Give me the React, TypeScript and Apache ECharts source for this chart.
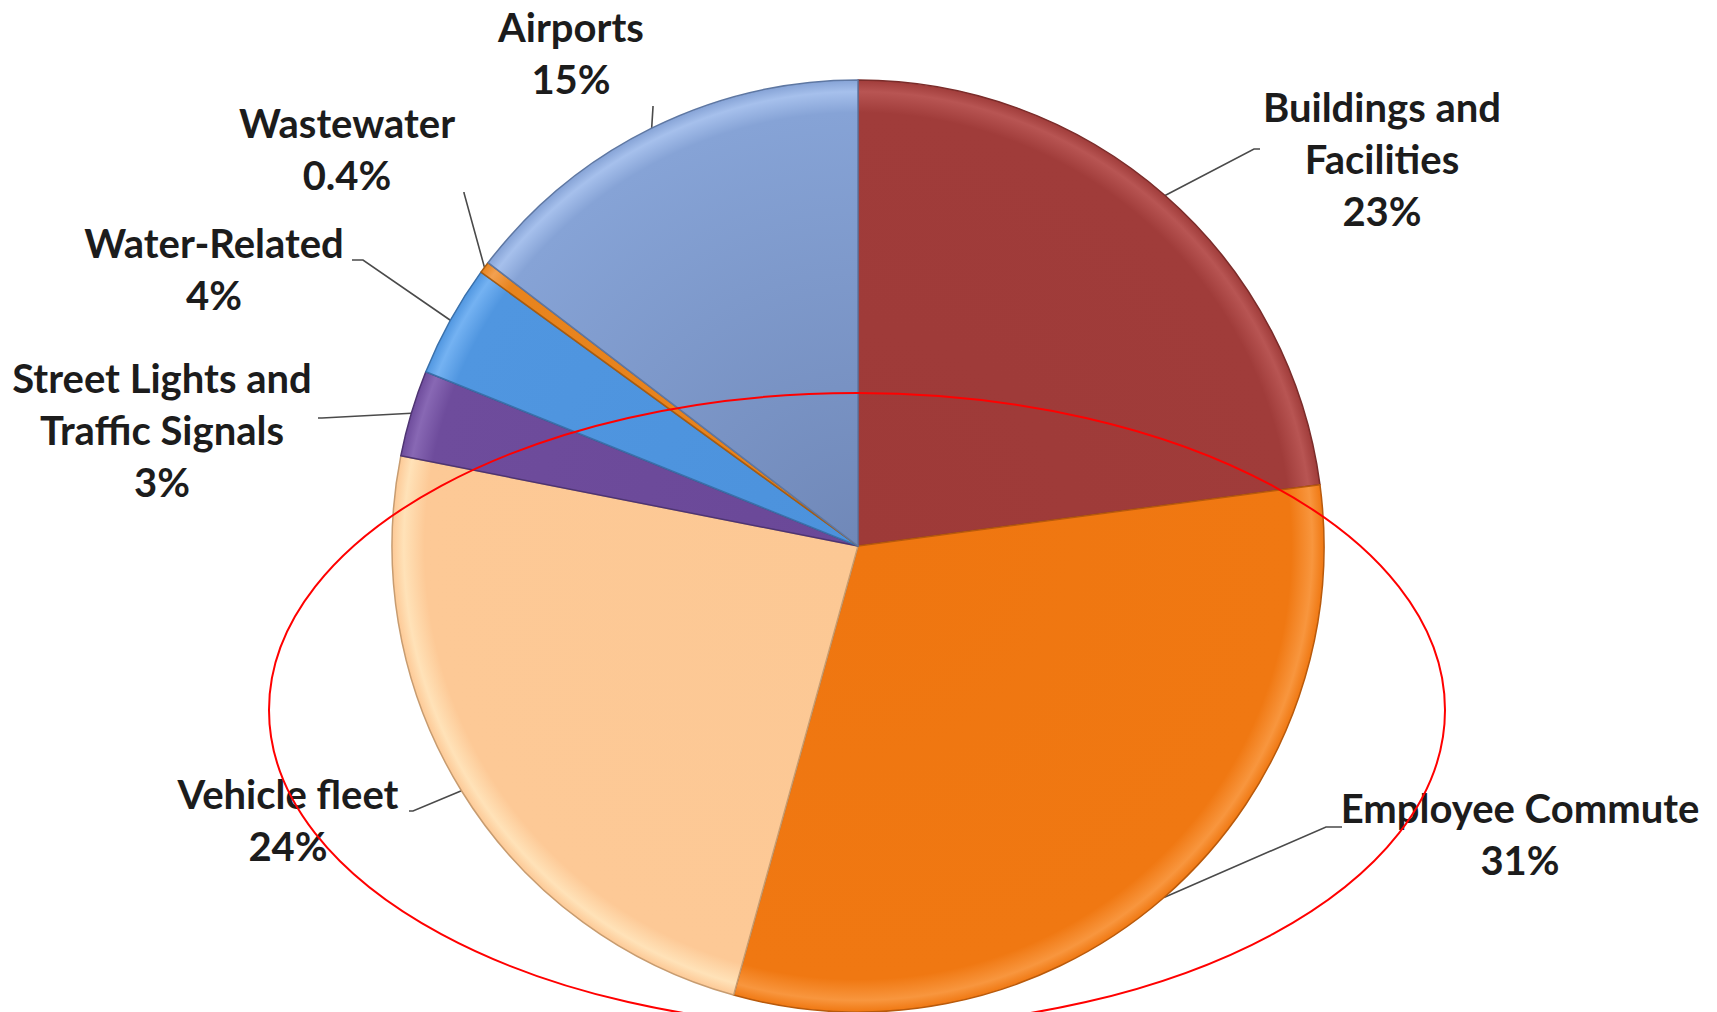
import React, { useEffect, useRef } from "react";
import * as echarts from "echarts";

// ---- data ----
const categories: string[] = [
  "Buildings and\nFacilities",
  "Employee Commute",
  "Vehicle fleet",
  "Street Lights and\nTraffic Signals",
  "Water-Related",
  "Wastewater",
  "Airports",
];
// shares; labels show them rounded as in the reference
const shares: number[] = [22.9, 31.4, 23.8, 3.0, 3.9, 0.4, 14.6];

// ---- styling / layout (kept apart from data) ----
const sliceInner: string[] = ["#9E3A38", "#EF7610", "#FCC894", "#6A4898", "#4C92DC", "#E6821C", "#7088B8"];
const sliceColors: string[] = ["#A03C3A", "#F07812", "#FDC996", "#6E4C9C", "#5096E0", "#E8841E", "#86A3D6"];
const sliceBorders: string[] = ["#7A2C2A", "#B85A0C", "#C79C70", "#4E3472", "#3A70AA", "#A85C10", "#5E77A2"];
const sliceRims: string[] = ["#B85553", "#F8963E", "#FFE2B8", "#8868B4", "#74B2F2", "#F2A050", "#A6C0EC"];
const labelCenters: number[][] = [
  [1382, 159],
  [1520, 834],
  [288, 820],
  [162, 430],
  [214, 269],
  [347, 149],
  [571, 53],
];
const lineBends: number[][][] = [
  [[1254, 149], [1260, 149]],
  [[1326, 827], [1342, 827]],
  [[413, 811], [409, 811]],
  [[322, 418], [318, 418]],
  [[363, 260], [352, 260]],
  [[464, 193], [464, 192]],
  [[653, 107], [653, 106]],
];
const PIE_CX = 858;
const PIE_CY = 546;
const PIE_R = 466;

const fmtShare = (v: number) => (v < 1 ? v.toFixed(1) : String(Math.round(v))) + "%";

export default function App() {
  const ref = useRef<HTMLDivElement>(null);

  useEffect(() => {
    if (!ref.current) return;
    const chart = echarts.init(ref.current, undefined, { renderer: "svg" });

    const data = categories.map((name, i) => ({
      name,
      value: shares[i],
      itemStyle: {
        color: {
          type: "radial",
          x: PIE_CX,
          y: PIE_CY,
          r: PIE_R,
          global: true,
          colorStops: [
            { offset: 0, color: sliceInner[i] },
            { offset: 0.93, color: sliceColors[i] },
            { offset: 0.975, color: sliceRims[i] },
            { offset: 1, color: sliceColors[i] },
          ],
        },
        borderColor: sliceBorders[i],
        borderWidth: 1.5,
      },
    }));

    chart.setOption({
      animation: false,
      backgroundColor: "#ffffff",
      series: [
        {
          type: "pie",
          center: [PIE_CX, PIE_CY],
          radius: PIE_R,
          startAngle: 90,
          clockwise: true,
          data,
          label: {
            show: true,
            formatter: (p: any) => p.name + "\n" + fmtShare(p.value),
            fontFamily: "Lato",
            fontWeight: "bold",
            fontSize: 40,
            lineHeight: 52,
            color: "#1c1c1c",
            align: "center",
          },
          labelLine: {
            show: true,
            lineStyle: { color: "#4a4a4a", width: 1.6 },
          },
          labelLayout: (params: any) => {
            const i = params.dataIndex;
            const start = params.labelLinePoints ? params.labelLinePoints[0] : lineBends[i][0];
            return {
              x: labelCenters[i][0],
              y: labelCenters[i][1],
              align: "center",
              verticalAlign: "middle",
              labelLinePoints: [start, lineBends[i][0], lineBends[i][1]],
            };
          },
          emphasis: { disabled: true },
        },
      ],
      graphic: [
        {
          type: "ellipse",
          z: 100,
          shape: { cx: 857, cy: 710, rx: 588, ry: 317 },
          style: { fill: "none", stroke: "#FF0000", lineWidth: 2 },
        },
      ],
    });

    return () => chart.dispose();
  }, []);

  return (
    <div
      ref={ref}
      style={{ position: "fixed", left: 0, top: 0, width: "1717px", height: "1012px", background: "#fff" }}
    />
  );
}
